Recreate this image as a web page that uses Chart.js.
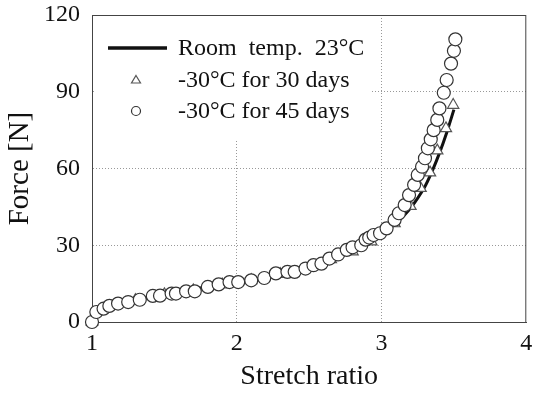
<!DOCTYPE html>
<html>
<head>
<meta charset="utf-8">
<script src="https://cdn.jsdelivr.net/npm/chart.js@4"></script>
<style>
  html, body { margin: 0; padding: 0; background: #fff; }
  #wrap { width: 534px; height: 395px; }
</style>
</head>
<body>
<div id="wrap"><canvas id="forceChart" width="534" height="395"></canvas></div>
<script>
// Room temp. 23°C (solid curve)
const roomStretch = [1.0, 1.05, 1.2, 1.4, 1.6, 1.8, 2.0, 2.2, 2.4, 2.6, 2.8, 2.95, 3.05, 3.1, 3.2, 3.3, 3.35, 3.4, 3.45, 3.5];
const roomForce   = [0, 4, 7, 9.8, 11.8, 13.8, 15.6, 17.6, 20.2, 24, 28.5, 32.5, 36.5, 38.5, 44.5, 53, 59, 66, 74, 83];

// -30°C for 30 days (triangles)
const days30Stretch = [1.0, 1.1, 1.3, 1.5, 1.7, 1.9, 2.1, 2.3, 2.5, 2.65, 2.8, 2.93, 3.09, 3.2, 3.27, 3.335, 3.385, 3.445, 3.495];
const days30Force   = [0, 5.5, 8.5, 10.8, 12.3, 14.6, 16.3, 18.7, 21.5, 24.5, 27.5, 31.4, 38.5, 45.3, 52.3, 58.4, 67, 75.7, 84.8];

// -30°C for 45 days (circles)
const days45Stretch = [1.0, 1.03, 1.08, 1.12, 1.18, 1.25, 1.33, 1.42, 1.47, 1.55, 1.58, 1.65, 1.71, 1.8, 1.875, 1.95, 2.01,
  2.1, 2.19, 2.27, 2.35, 2.4, 2.475, 2.53, 2.585, 2.64, 2.7, 2.76, 2.8, 2.86, 2.89, 2.915, 2.945, 2.99, 3.035, 3.09, 3.12,
  3.16, 3.19, 3.225, 3.25, 3.28, 3.3, 3.32, 3.34, 3.36, 3.385, 3.4, 3.43, 3.45, 3.48, 3.5, 3.51];
const days45Force   = [0, 3.9, 5.2, 6.3, 7.2, 7.8, 8.7, 10.2, 10.3, 11.1, 11.1, 12, 12, 13.7, 14.7, 15.6, 15.6,
  16.3, 17.2, 19, 19.6, 19.6, 20.9, 22.2, 22.8, 24.8, 26.4, 28.2, 29.2, 30, 32.2, 33, 34, 34.7, 36.6, 39.9, 42.5,
  45.7, 49.6, 53.6, 57.5, 60.7, 64, 67.9, 71.4, 75, 79, 83.5, 89.6, 94.6, 101, 106, 110.5];

const legendLabels = ['Room  temp.  23\u00B0C', '-30\u00B0C for 30 days', '-30\u00B0C for 45 days'];
const xTicks = [1, 2, 3, 4];
const yTicks = [0, 30, 60, 90, 120];

const serif = 'Liberation Serif';

function toPoints(xs, ys) {
  return xs.map((x, i) => ({ x: x, y: ys[i] }));
}

// plot frame + legend box, drawn before the markers
const frameAndLegend = {
  id: 'frameAndLegend',
  beforeDatasetsDraw(chart) {
    const { ctx, chartArea: a } = chart;
    ctx.save();
    // legend box (white, no border)
    const bx = a.left + 2, by = a.top + 2;
    ctx.fillStyle = '#fff';
    ctx.fillRect(bx, by, 278, 122);

    // plot frame
    ctx.strokeStyle = '#444';
    ctx.lineWidth = 1;
    ctx.strokeRect(a.left + 0.5, a.top + 0.5, a.right - a.left - 1, a.bottom - a.top);

    // legend entries
    const mx = 136, tx = 178;
    const rows = [48, 80, 111];
    ctx.font = '24px "' + serif + '"';
    ctx.textBaseline = 'middle';
    ctx.fillStyle = '#111';
    legendLabels.forEach((lab, i) => ctx.fillText(lab, tx, rows[i] + 1));

    ctx.strokeStyle = '#111';
    ctx.lineWidth = 3.5;
    ctx.beginPath();
    ctx.moveTo(108, rows[0]);
    ctx.lineTo(167, rows[0]);
    ctx.stroke();

    ctx.lineWidth = 1.2;
    ctx.strokeStyle = '#555';
    ctx.beginPath();
    ctx.moveTo(mx, rows[1] - 4.5);
    ctx.lineTo(mx + 4.5, rows[1] + 3);
    ctx.lineTo(mx - 4.5, rows[1] + 3);
    ctx.closePath();
    ctx.stroke();

    ctx.strokeStyle = '#333';
    ctx.beginPath();
    ctx.arc(mx, rows[2], 4.5, 0, Math.PI * 2);
    ctx.stroke();
    ctx.restore();
  }
};

const gridColor = (keep) => (c) => keep.includes(c.tick.value) ? '#999' : 'rgba(0,0,0,0)';

const ctx = document.getElementById('forceChart').getContext('2d');
const forceChart = new Chart(ctx, {
  type: 'scatter',
  data: {
    datasets: [
      {
        label: legendLabels[0],
        data: toPoints(roomStretch, roomForce),
        showLine: true,
        borderColor: '#111',
        borderWidth: 3,
        pointRadius: 0,
        tension: 0.3,
        clip: false,
        order: 3
      },
      {
        label: legendLabels[1],
        data: toPoints(days30Stretch, days30Force),
        pointStyle: 'triangle',
        pointRadius: 6.5,
        pointBackgroundColor: '#fff',
        pointBorderColor: '#555',
        pointBorderWidth: 1.2,
        clip: false,
        order: 2
      },
      {
        label: legendLabels[2],
        data: toPoints(days45Stretch, days45Force),
        pointStyle: 'circle',
        pointRadius: 6.5,
        pointBackgroundColor: '#fff',
        pointBorderColor: '#333',
        pointBorderWidth: 1.2,
        clip: false,
        order: 1
      }
    ]
  },
  options: {
    responsive: false,
    animation: false,
    events: [],
    layout: { padding: { left: 0, right: 7, top: 15, bottom: 0 } },
    plugins: {
      legend: { display: false },
      tooltip: { enabled: false }
    },
    scales: {
      x: {
        type: 'linear',
        min: 1,
        max: 4,
        afterBuildTicks: (s) => { s.ticks = xTicks.map(v => ({ value: v })); },
        afterFit: (s) => { s.height = 73; s.paddingLeft = 0; s.paddingRight = 0; },
        grid: { color: gridColor([2, 3]), lineWidth: 1, drawTicks: false },
        border: { display: true, color: '#444', width: 1, dash: [1, 2] },
        ticks: {
          padding: 7,
          color: '#111',
          font: { family: serif, size: 24 },
          callback: (v) => String(v)
        },
        title: {
          display: true,
          text: 'Stretch ratio',
          color: '#111',
          font: { family: serif, size: 28 },
          padding: { top: 0, bottom: 2 }
        }
      },
      y: {
        type: 'linear',
        min: 0,
        max: 120,
        afterBuildTicks: (s) => { s.ticks = yTicks.map(v => ({ value: v })); },
        afterFit: (s) => { s.width = 92; s.paddingTop = 0; s.paddingBottom = 0; },
        grid: { color: gridColor([30, 60, 90]), lineWidth: 1, drawTicks: false },
        border: { display: true, color: '#444', width: 1, dash: [1, 2] },
        ticks: {
          padding: 12,
          color: '#111',
          font: { family: serif, size: 24 },
          callback: (v) => String(v)
        },
        title: {
          display: true,
          text: 'Force [N]',
          color: '#111',
          font: { family: serif, size: 29 },
          padding: { top: 3, bottom: 0 }
        }
      }
    }
  },
  plugins: [frameAndLegend]
});
</script>
</body>
</html>
